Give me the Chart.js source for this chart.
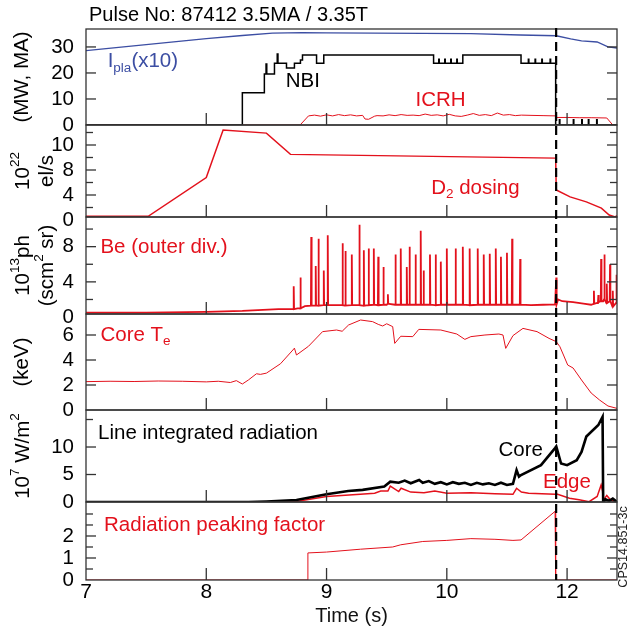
<!DOCTYPE html>
<html>
<head>
<meta charset="utf-8">
<script src="https://cdn.jsdelivr.net/npm/chart.js@4.4.0/dist/chart.umd.min.js"></script>
<style>
  body { margin: 0; background: #fff; }
  canvas { display: block; }
</style>
</head>
<body>
<canvas id="c" width="629" height="635"></canvas>
<script>
// time axis (the source figure labels its fifth tick "12")
const xTicks = [7, 8, 9, 10, 11];
const xTickLabels = ['7', '8', '9', '10', '12'];
const dashT = 10.909;

// panel 1: power / current
const iplaT = [7.0, 7.5, 8.0, 8.3, 8.55, 8.8, 9.0, 9.4, 9.8, 10.2, 10.61, 10.91, 11.03, 11.12, 11.25, 11.34, 11.415];
const iplaV = [28.6, 30.9, 33.2, 34.4, 35.3, 35.5, 35.4, 35.3, 35.2, 35.1, 34.6, 34.3, 33.1, 32.3, 31.9, 30.0, 29.6];

// NBI: each value holds until the next time
const nbiT = [7.0, 8.30, 8.483, 8.497, 8.503, 8.567, 8.590, 8.596, 8.667, 8.733, 8.783, 8.800, 8.917, 8.977,
  9.890, 9.933, 9.937, 9.983, 9.987, 10.033, 10.037, 10.083, 10.087, 10.133, 10.617,
  10.678, 10.682, 10.734, 10.738, 10.790, 10.794, 10.859, 10.863, 10.905,
  10.936, 10.940, 11.052, 11.056, 11.122, 11.126, 11.177, 11.181, 11.246, 11.250, 11.415];
const nbiV = [0, 12.4, 19.6, 23.4, 19.6, 23.7, 27.3, 23.7, 21.9, 23.7, 25.0, 26.9, 23.7, 26.9,
  23.7, 25.3, 23.7, 25.3, 23.7, 25.3, 23.7, 25.3, 23.7, 26.9, 23.7,
  25.3, 23.7, 25.3, 23.7, 25.3, 23.7, 25.3, 23.7, 0,
  2.0, 0, 2.0, 0, 2.0, 0, 2.0, 0, 2.0, 0, 0];

const icrhT = [7.0, 8.78, 8.85, 8.9, 8.95, 9.0, 9.05, 9.1, 9.15, 9.2, 9.25, 9.3, 9.32, 9.35, 9.4, 9.42, 9.47,
  9.52, 9.57, 9.62, 9.67, 9.72, 9.77, 9.82, 9.87, 9.92, 9.97, 10.02, 10.07, 10.12, 10.17, 10.22, 10.27,
  10.32, 10.37, 10.42, 10.47, 10.52, 10.57, 10.62, 10.7, 10.8, 10.905, 10.91, 11.0, 11.1, 11.2, 11.33, 11.38, 11.415];
const icrhV = [0, 0, 3.5, 3.8, 3.4, 3.9, 3.5, 4.0, 3.6, 3.9, 3.5, 3.7, 2.3, 2.2, 3.4, 3.6, 3.5,
  3.9, 3.6, 4.0, 3.7, 3.8, 3.6, 4.2, 3.7, 3.9, 3.5, 4.1, 3.5, 3.3, 3.8, 4.4, 3.7,
  4.0, 3.6, 4.6, 3.8, 4.0, 3.6, 3.8, 3.7, 3.6, 3.5, 2.9, 2.9, 2.8, 2.8, 2.7, 0, 0];

// panel 2: D2 dosing
const d2T = [7.0, 7.517, 8.0, 8.14, 8.5, 8.7, 10.905, 10.91, 11.025, 11.16, 11.285, 11.35, 11.40, 11.415];
const d2V = [0.6, 0.6, 6.8, 14.4, 13.9, 10.5, 9.9, 4.8, 3.7, 2.9, 1.9, 0.8, 0.5, 0.7];

// panel 3: Be outer divertor, background level plus ELM spikes
const beBaseT = [7.0, 7.5, 8.0, 8.3, 8.6, 8.76, 8.82, 8.9, 9.1, 9.3, 9.5, 9.52, 9.7, 9.9, 10.1, 10.3,
  10.5, 10.7, 10.8, 10.9, 10.925, 10.96, 11.05, 11.15, 11.2, 11.25, 11.3, 11.34, 11.39, 11.415];
const beBaseV = [0.5, 0.5, 0.6, 0.7, 0.9, 1.0, 1.25, 1.3, 1.35, 1.3, 1.4, 1.5, 1.4, 1.35, 1.4, 1.4,
  1.4, 1.35, 1.4, 1.45, 2.0, 1.8, 1.7, 1.5, 1.4, 1.6, 1.8, 1.6, 1.2, 3.0];
const beSpikeT = [8.727, 8.783, 8.873, 8.91, 8.933, 8.977, 9.01, 9.133, 9.157, 9.21, 9.273, 9.31, 9.35, 9.393,
  9.43, 9.473, 9.51, 9.573, 9.617, 9.667, 9.69, 9.74, 9.783, 9.807, 9.86, 9.907, 9.95, 10.0, 10.073,
  10.133, 10.19, 10.257, 10.307, 10.357, 10.407, 10.45, 10.5, 10.543, 10.61, 10.91,
  11.223, 11.26, 11.283, 11.31, 11.33, 11.357, 11.38, 11.41];
const beSpikeV = [3.5, 4.5, 9.1, 5.8, 8.9, 5.3, 9.3, 8.4, 7.5, 7.1, 10.5, 7.6, 7.8, 7.8,
  6.85, 5.7, 2.6, 7.1, 7.8, 5.7, 8.0, 7.1, 9.8, 5.3, 7.1, 7.1, 6.3, 7.8, 7.8,
  8.0, 7.8, 7.8, 7.1, 7.2, 7.8, 6.85, 7.3, 8.9, 6.6, 4.5,
  3.0, 2.5, 6.6, 7.1, 3.8, 6.0, 3.0, 4.8];
const beSpikeBase = [0.9, 1.0, 1.3, 1.3, 1.3, 1.35, 1.35, 1.35, 1.3, 1.35, 1.35, 1.3, 1.35, 1.4,
  1.35, 1.4, 1.5, 1.4, 1.4, 1.4, 1.4, 1.4, 1.4, 1.4, 1.4, 1.35, 1.4, 1.4, 1.4,
  1.4, 1.35, 1.4, 1.4, 1.4, 1.4, 1.4, 1.4, 1.4, 1.4, 1.45,
  1.5, 1.7, 1.8, 2.0, 1.6, 1.8, 1.2, 1.6];

// panel 4: core Te
const teT = [7.0, 7.2, 7.4, 7.6, 7.8, 8.0, 8.1, 8.2, 8.25, 8.3, 8.35, 8.417, 8.45, 8.5, 8.617, 8.72, 8.733,
  8.75, 8.85, 8.967, 9.083, 9.13, 9.183, 9.283, 9.383, 9.43, 9.467, 9.5, 9.55, 9.567, 9.617, 9.717, 9.767,
  9.95, 10.083, 10.15, 10.2, 10.317, 10.433, 10.467, 10.49, 10.55, 10.633, 10.75, 10.85, 10.91, 10.94,
  10.97, 11.005, 11.05, 11.12, 11.2, 11.27, 11.34, 11.415];
const teV = [2.27, 2.3, 2.28, 2.32, 2.3, 2.25, 2.3, 2.2, 2.35, 2.08, 2.4, 2.9, 2.85, 2.95, 3.7, 4.8, 4.95,
  4.4, 5.1, 6.27, 6.4, 6.3, 6.8, 7.2, 7.07, 6.85, 6.72, 6.9, 6.67, 5.33, 5.9, 5.87, 6.45,
  6.4, 6.08, 5.65, 5.87, 6.0, 6.08, 6.0, 4.93, 5.95, 6.53, 6.27, 5.73, 5.47, 5.07,
  4.4, 3.6, 3.36, 2.4, 1.36, 0.8, 0.32, 0.13];

// panel 5: line integrated radiation
const coreT = [7.0, 8.35, 8.5, 8.75, 9.0, 9.18, 9.3, 9.48, 9.53, 9.6, 9.65, 9.7, 9.77, 9.8, 9.85, 9.9, 9.95,
  10.0, 10.05, 10.1, 10.15, 10.2, 10.25, 10.3, 10.35, 10.4, 10.45, 10.5, 10.55, 10.58, 10.6, 10.617,
  10.783, 10.9, 10.91, 10.95, 11.0, 11.08, 11.12, 11.16, 11.26, 11.295, 11.30, 11.32, 11.35, 11.38, 11.415];
const coreV = [0, 0, 0.1, 0.36, 1.4, 2.0, 2.2, 2.8, 3.7, 3.5, 3.9, 3.4, 4.0, 3.5, 3.8, 3.3, 3.6,
  3.2, 3.6, 3.3, 3.5, 3.1, 3.5, 3.2, 3.4, 3.1, 3.5, 3.1, 3.3, 5.8, 4.6, 4.9,
  6.7, 9.8, 10.1, 7.0, 6.7, 7.6, 9.1, 11.9, 14.0, 15.5, 0, 0.5, 0.2, 0.6, 0];
const edgeT = [7.0, 8.35, 8.75, 9.0, 9.28, 9.4, 9.45, 9.51, 9.53, 9.6, 9.62, 9.7, 9.81, 9.9, 10.0, 10.2,
  10.4, 10.55, 10.58, 10.62, 10.68, 10.9, 10.91, 11.02, 11.1, 11.183, 11.25, 11.283, 11.295, 11.3, 11.33, 11.36, 11.415];
const edgeV = [0, 0, 0.1, 1.0, 1.4, 1.6, 2.0, 2.0, 2.9, 1.9, 2.5, 1.8, 1.7, 2.0, 1.6, 1.7,
  1.5, 1.4, 2.5, 1.8, 1.6, 1.4, 1.5, 0.7, 0.4, 0.06, 1.0, 3.1, 2.0, 0.3, 1.2, 0.4, 0];

// panel 6: radiation peaking factor
const pkT = [7.0, 8.843, 8.845, 9.0, 9.283, 9.55, 9.617, 9.8, 10.0, 10.2, 10.4, 10.55, 10.617, 10.9, 10.905, 11.415];
const pkV = [0, 0, 1.23, 1.27, 1.4, 1.5, 1.6, 1.75, 1.8, 1.88, 1.85, 1.8, 1.82, 3.12, 0, 0];

// y tick values and labels per panel
const pwTicks = [0, 10, 20, 30];            const pwLabels = ['0', '10', '20', '30'];
const d2Ticks = [0, 2, 4, 6, 8, 10, 12, 14]; const d2Labels = ['0', '', '4', '', '8', '', '10', ''];
const beTicks = [0, 2, 4, 6, 8, 10];         const beLabels = ['0', '', '4', '', '8', ''];
const teTicks = [0, 2, 4, 6];                const teLabels = ['0', '2', '4', '6'];
const radTicks = [0, 5, 10, 15];             const radLabels = ['0', '5', '10', ''];
const pkTicks = [0, 0.5, 1, 1.5, 2, 2.5, 3]; const pkLabels = ['0', '', '1', '', '2', '', ''];

const FAM = '"Liberation Sans", Arial, sans-serif';
const RED = '#e3111c';
const BLUE = '#3c4ea3';
const FS = 20.5;
const panelIds = ['pw', 'd2', 'be', 'te', 'rad', 'pk'];

const pts = (t, v) => t.map((x, i) => ({ x, y: v[i] }));

// background points plus a narrow up-and-down for each spike
function spikySeries(baseT, baseV, spT, spV, spBase) {
    const out = pts(baseT, baseV);
    spT.forEach((t, i) => {
        out.push({ x: t - 0.003, y: spBase[i] }, { x: t, y: spV[i] }, { x: t + 0.003, y: spBase[i] });
    });
    return out.sort((a, b) => a.x - b.x);
}

function yScale(weight, h, min, max, ticks, labels) {
    return {
        type: 'linear', position: 'left', stack: 'panels', stackWeight: h, weight,
        min, max,
        afterBuildTicks: ax => { ax.ticks = ticks.map(v => ({ value: v })); },
        afterFit: ax => { ax.width = 86; },
        grid: { display: false },
        border: { display: false },
        ticks: { autoSkip: false, padding: 4, color: '#000', font: { family: FAM, size: FS }, callback: (v, i) => labels[i] }
    };
}

function drawRich(ctx, parts, x, y, size, color, align) {
    const fontOf = p => (p[1] ? size * 0.66 : size) + 'px ' + FAM;
    let w = 0;
    parts.forEach(p => { ctx.font = fontOf(p); w += ctx.measureText(p[0]).width; });
    let cx = align === 'center' ? x - w / 2 : x;
    ctx.fillStyle = color;
    ctx.textAlign = 'left';
    ctx.textBaseline = 'middle';
    parts.forEach(p => {
        ctx.font = fontOf(p);
        const dy = p[1] === 'sup' ? -size * 0.36 : p[1] === 'sub' ? size * 0.32 : 0;
        ctx.fillText(p[0], cx, y + dy);
        cx += ctx.measureText(p[0]).width;
    });
}

const notes = [
    { parts: [['I', ''], ['pla', 'sub'], ['(x10)', '']], x: 7.18, y: 24.4, axis: 'pw', color: BLUE },
    { parts: [['NBI', '']], x: 8.66, y: 16.9, axis: 'pw', color: '#000' },
    { parts: [['ICRH', '']], x: 9.74, y: 9.6, axis: 'pw', color: RED },
    { parts: [['D', ''], ['2', 'sub'], [' dosing', '']], x: 9.87, y: 5.1, axis: 'd2', color: RED },
    { parts: [['Be (outer div.)', '']], x: 7.12, y: 7.95, axis: 'be', color: RED },
    { parts: [['Core T', ''], ['e', 'sub']], x: 7.12, y: 6.0, axis: 'te', color: RED },
    { parts: [['Line integrated radiation', '']], x: 7.1, y: 12.4, axis: 'rad', color: '#000' },
    { parts: [['Core', '']], x: 10.43, y: 9.45, axis: 'rad', color: '#000' },
    { parts: [['Edge', '']], x: 10.8, y: 3.6, axis: 'rad', color: RED },
    { parts: [['Radiation peaking factor', '']], x: 7.15, y: 2.5, axis: 'pk', color: RED }
];

const yTitles = [
    { axis: 'pw', lines: [{ x: 22, parts: [['(MW, MA)', '']] }] },
    { axis: 'd2', lines: [{ x: 23, parts: [['10', ''], ['22', 'sup']] }, { x: 47, parts: [['el/s', '']] }] },
    { axis: 'be', lines: [{ x: 23, parts: [['10', ''], ['13', 'sup'], ['ph', '']] }, { x: 47, parts: [['(scm', ''], ['2', 'sup'], [' sr)', '']] }] },
    { axis: 'te', lines: [{ x: 22, parts: [['(keV)', '']] }] },
    { axis: 'rad', lines: [{ x: 23, parts: [['10', ''], ['7', 'sup'], [' W/m', ''], ['2', 'sup']] }] }
];

const line = (ctx, x1, y1, x2, y2) => { ctx.beginPath(); ctx.moveTo(x1, y1); ctx.lineTo(x2, y2); ctx.stroke(); };

const panelPlugin = {
    id: 'panels',
    afterDatasetsDraw(chart) {
        const ctx = chart.ctx, area = chart.chartArea, xs = chart.scales.x;
        ctx.save();
        ctx.strokeStyle = '#333';
        ctx.lineWidth = 1.3;
        panelIds.forEach(id => {
            const s = chart.scales[id];
            ctx.strokeRect(area.left, s.top, area.right - area.left, s.bottom - s.top);
            s.ticks.forEach(t => {
                const py = s.getPixelForValue(t.value);
                if (py >= s.bottom - 1 || py <= s.top + 1) return;
                const len = t.label ? 10 : 7;
                line(ctx, area.left, py, area.left + len, py);
                line(ctx, area.right, py, area.right - len, py);
            });
            xTicks.forEach(v => {
                if (v <= xs.min) return;
                const px = xs.getPixelForValue(v);
                line(ctx, px, s.bottom, px, s.bottom - 12);
            });
        });
        // disruption marker
        const dx = xs.getPixelForValue(dashT);
        ctx.strokeStyle = '#000';
        ctx.lineWidth = 2.2;
        ctx.setLineDash([9, 5]);
        line(ctx, dx, area.top - 1, dx, area.bottom);
        ctx.setLineDash([]);
        notes.forEach(n => {
            drawRich(ctx, n.parts, xs.getPixelForValue(n.x), chart.scales[n.axis].getPixelForValue(n.y), FS, n.color, 'left');
        });
        ctx.restore();
    },
    afterDraw(chart) {
        const ctx = chart.ctx, area = chart.chartArea;
        ctx.save();
        drawRich(ctx, [['Pulse No: 87412 3.5MA / 3.35T', '']], area.left + 3, 15, 20, '#000', 'left');
        yTitles.forEach(t => {
            const s = chart.scales[t.axis];
            const cy = (s.top + s.bottom) / 2;
            t.lines.forEach(l => {
                ctx.save();
                ctx.translate(l.x, cy);
                ctx.rotate(-Math.PI / 2);
                drawRich(ctx, l.parts, 0, 0, FS, '#000', 'center');
                ctx.restore();
            });
        });
        ctx.save();
        ctx.translate(624, (chart.scales.pk.top + chart.scales.pk.bottom) / 2 + 6);
        ctx.rotate(-Math.PI / 2);
        drawRich(ctx, [['CPS14.851-3c', '']], 0, 0, 12.5, '#222', 'center');
        ctx.restore();
        ctx.restore();
    }
};

new Chart(document.getElementById('c'), {
    type: 'line',
    data: {
        datasets: [
            { data: pts(iplaT, iplaV), yAxisID: 'pw', borderColor: BLUE, borderWidth: 1.3 },
            { data: pts(nbiT, nbiV), yAxisID: 'pw', borderColor: '#000', borderWidth: 1.5, stepped: 'before' },
            { data: pts(icrhT, icrhV), yAxisID: 'pw', borderColor: RED, borderWidth: 1 },
            { data: pts(d2T, d2V), yAxisID: 'd2', borderColor: RED, borderWidth: 1.5 },
            { data: spikySeries(beBaseT, beBaseV, beSpikeT, beSpikeV, beSpikeBase), yAxisID: 'be', borderColor: RED, borderWidth: 1.8 },
            { data: pts(teT, teV), yAxisID: 'te', borderColor: RED, borderWidth: 1 },
            { data: pts(coreT, coreV), yAxisID: 'rad', borderColor: '#000', borderWidth: 2.6 },
            { data: pts(edgeT, edgeV), yAxisID: 'rad', borderColor: RED, borderWidth: 1.5 },
            { data: pts(pkT, pkV), yAxisID: 'pk', borderColor: RED, borderWidth: 1 }
        ]
    },
    options: {
        responsive: false,
        animation: false,
        devicePixelRatio: 1,
        events: [],
        layout: { padding: { top: 29, right: 12, left: 0, bottom: 0 } },
        elements: { point: { radius: 0 }, line: { tension: 0 } },
        plugins: { legend: { display: false }, tooltip: { enabled: false } },
        scales: {
            x: {
                type: 'linear', position: 'bottom', min: 7, max: 11.415,
                afterBuildTicks: ax => { ax.ticks = xTicks.map(v => ({ value: v })); },
                afterFit: ax => { ax.height = 55; },
                grid: { display: false },
                border: { display: false },
                ticks: { autoSkip: false, maxRotation: 0, padding: -8, color: '#000', font: { family: FAM, size: 21 }, callback: (v, i) => xTickLabels[i] },
                title: { display: true, text: 'Time (s)', color: '#111', font: { family: FAM, size: 20 }, padding: { top: 0, bottom: 7 } }
            },
            pw: yScale(6, 96, 0, 36.9, pwTicks, pwLabels),
            d2: yScale(5, 92, 0.48, 15.2, d2Ticks, d2Labels),
            be: yScale(4, 97, 0.35, 11.37, beTicks, beLabels),
            te: yScale(3, 96, 0, 7.68, teTicks, teLabels),
            rad: yScale(2, 92, 0, 16.73, radTicks, radLabels),
            pk: yScale(1, 78, 0, 3.545, pkTicks, pkLabels)
        }
    },
    plugins: [panelPlugin]
});
</script>
</body>
</html>
